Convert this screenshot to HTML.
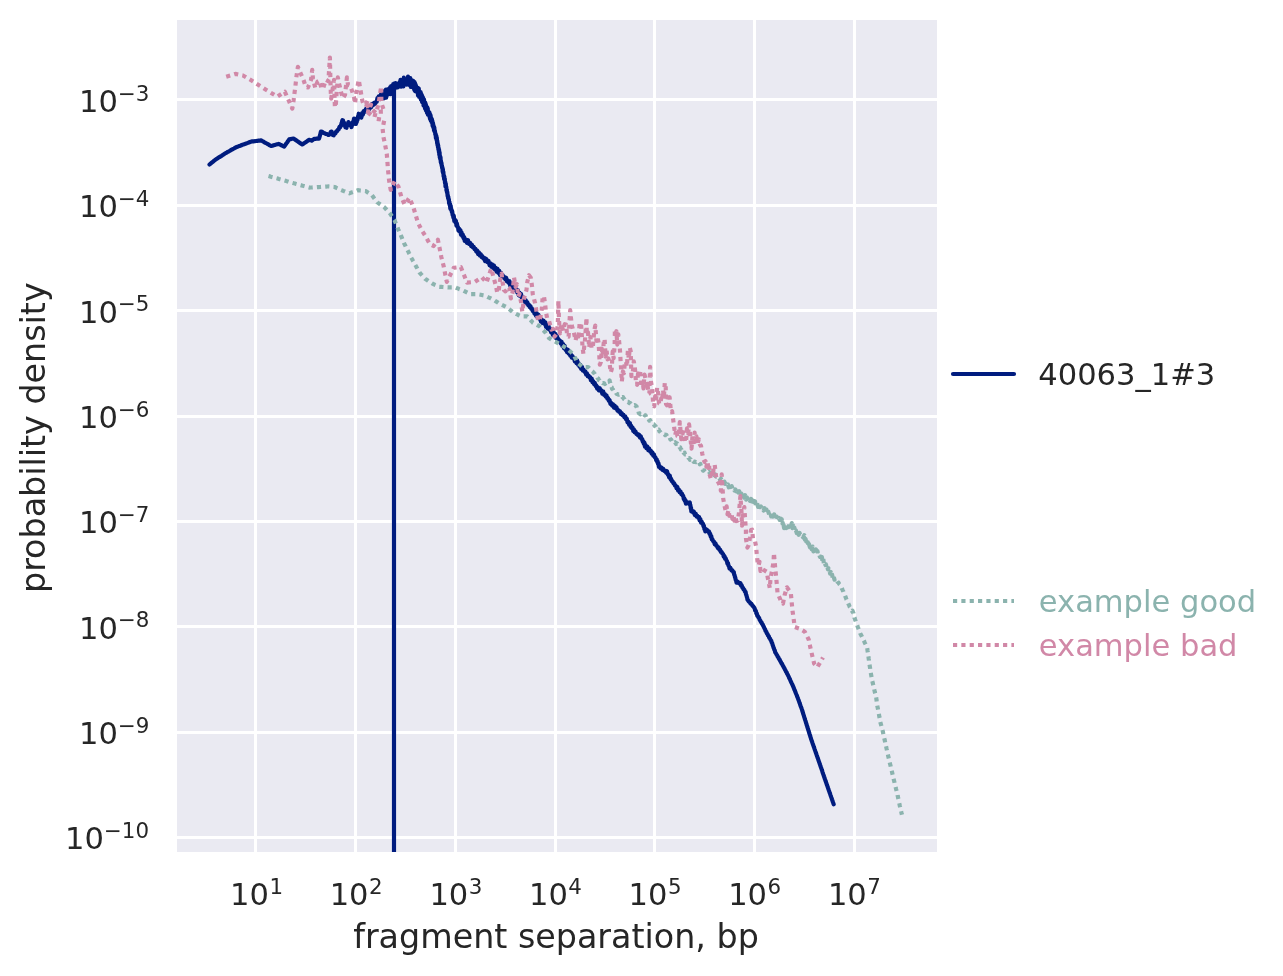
<!DOCTYPE html>
<html lang="en"><head><meta charset="utf-8"><title>fragment separation</title>
<style>html,body{margin:0;padding:0;background:#fff}svg{display:block}</style></head>
<body>
<svg width="1283" height="976" viewBox="0 0 1283 976">
<rect width="1283" height="976" fill="#fff"/>
<rect x="177" y="20" width="760" height="832" fill="#eaeaf2"/>
<g fill="#fff" shape-rendering="crispEdges">
<rect x="254" y="20" width="3" height="832"/>
<rect x="354" y="20" width="3" height="832"/>
<rect x="454" y="20" width="3" height="832"/>
<rect x="554" y="20" width="3" height="832"/>
<rect x="653" y="20" width="3" height="832"/>
<rect x="753" y="20" width="3" height="832"/>
<rect x="853" y="20" width="3" height="832"/>
<rect x="177" y="98" width="760" height="3"/>
<rect x="177" y="204" width="760" height="3"/>
<rect x="177" y="309" width="760" height="3"/>
<rect x="177" y="415" width="760" height="3"/>
<rect x="177" y="520" width="760" height="3"/>
<rect x="177" y="625" width="760" height="3"/>
<rect x="177" y="731" width="760" height="3"/>
<rect x="177" y="836" width="760" height="3"/>
</g>
<clipPath id="ax"><rect x="177" y="20" width="760" height="832"/></clipPath>
<g clip-path="url(#ax)" fill="none" stroke-linejoin="round">
<path d="M209.5 164.5 L210.6 163.6 L211.7 162.7 L212.8 161.8 L213.9 160.9 L215.0 160.0 L216.1 159.3 L217.2 158.6 L218.3 157.8 L219.4 157.1 L220.6 156.4 L221.7 155.7 L222.8 154.9 L223.9 154.2 L225.0 153.5 L226.1 152.9 L227.2 152.2 L228.4 151.6 L229.5 151.0 L230.6 150.3 L231.7 149.7 L232.8 149.1 L234.0 148.5 L235.1 147.8 L236.2 147.2 L237.3 146.8 L238.5 146.3 L239.6 145.9 L240.8 145.5 L241.9 145.0 L243.1 144.6 L244.2 144.2 L245.4 143.8 L246.5 143.3 L247.7 142.9 L248.8 142.5 L250.0 142.0 L251.1 141.6 L252.3 141.4 L253.6 141.3 L254.8 141.2 L256.1 141.0 L257.4 140.8 L258.6 140.7 L259.9 140.6 L261.1 140.4 L262.2 141.0 L263.3 141.6 L264.4 142.3 L265.5 142.9 L266.7 143.5 L267.8 144.1 L268.9 144.8 L270.0 145.4 L271.1 146.0 L272.4 145.7 L273.6 145.3 L274.9 144.9 L276.1 144.6 L277.4 144.2 L278.6 143.9 L279.7 144.4 L280.8 145.0 L282.0 145.5 L283.1 146.1 L284.2 146.6 L284.9 145.6 L285.6 144.5 L286.3 143.5 L287.1 142.5 L287.8 141.5 L288.5 140.4 L289.2 139.4 L290.6 139.1 L292.1 138.8 L293.5 138.5 L294.6 139.2 L295.7 140.0 L296.8 140.8 L297.9 141.5 L298.9 142.2 L300.0 143.0 L301.1 143.8 L302.2 144.5 L303.4 143.7 L304.5 142.9 L305.6 142.2 L306.8 141.4 L308.0 140.6 L309.1 139.8 L310.4 140.2 L311.6 140.7 L312.9 139.8 L314.1 138.9 L315.4 138.8 L316.6 138.7 L317.9 138.6 L319.1 138.6 L319.4 137.3 L319.7 136.3 L320.1 134.9 L320.4 134.0 L320.7 132.4 L321.0 131.5 L322.2 131.8 L323.5 132.9 L324.7 133.2 L325.9 134.0 L327.2 134.1 L328.4 135.0 L329.7 134.4 L330.2 133.9 L330.7 132.0 L331.2 131.5 L331.7 131.7 L332.3 134.5 L332.8 135.0 L333.7 135.3 L334.6 133.4 L335.4 133.4 L336.3 131.3 L337.2 131.1 L337.9 129.6 L338.7 129.3 L339.4 127.0 L340.2 127.3 L340.9 125.3 L341.2 125.5 L341.5 123.0 L341.9 123.0 L342.2 120.8 L342.5 120.1 L343.0 120.5 L343.5 123.0 L344.0 122.6 L344.4 125.0 L344.9 124.8 L345.4 127.4 L345.9 127.4 L346.5 127.7 L347.1 124.4 L347.8 124.7 L348.4 122.0 L349.4 124.8 L350.5 123.7 L351.5 127.1 L352.0 124.2 L352.5 124.9 L353.0 121.9 L353.5 121.8 L354.0 118.6 L354.6 121.5 L355.3 121.4 L355.9 123.9 L356.3 121.1 L356.7 122.3 L357.1 118.7 L357.5 119.9 L357.9 116.6 L358.3 117.3 L358.7 113.7 L359.6 117.1 L360.6 116.4 L361.4 117.5 L362.1 113.2 L362.9 114.6 L363.7 111.0 L364.7 111.9 L365.8 109.2 L366.8 111.1 L367.8 107.1 L368.9 109.8 L369.9 106.5 L370.9 107.5 L372.0 104.2 L373.0 105.2 L374.1 102.8 L375.1 103.8 L376.2 101.7 L376.8 101.6 L377.4 98.1 L378.1 99.3 L378.7 96.4 L379.9 98.4 L381.2 93.7 L382.4 97.0 L382.8 93.8 L383.2 97.9 L383.6 91.9 L383.9 98.4 L384.3 91.2 L384.7 96.3 L385.1 92.0 L385.5 96.1 L385.9 89.6 L386.2 97.7 L386.6 91.6 L387.0 94.2 L387.4 90.6 L387.8 93.8 L388.1 89.1 L388.5 94.4 L388.9 89.3 L389.2 91.8 L389.6 88.2 L390.0 92.5 L390.3 87.1 L390.7 94.1 L391.1 86.1 L391.4 92.0 L391.8 85.8 L392.1 92.0 L392.5 87.3 L392.9 92.3 L393.2 84.2 L393.6 91.7 L394.0 83.6 L394.3 89.4 L394.7 84.5 L395.1 87.9 L395.5 83.2 L395.9 87.3 L396.4 84.8 L396.8 87.4 L397.2 84.0 L397.6 87.4 L398.0 84.0 L398.4 85.8 L398.8 83.2 L399.2 85.7 L399.7 82.0 L400.1 85.0 L400.5 79.8 L400.9 86.7 L401.3 82.0 L401.7 85.0 L402.2 80.8 L402.6 85.0 L403.0 81.2 L403.4 86.3 L403.8 77.7 L404.3 84.5 L404.7 79.1 L405.1 82.7 L405.5 80.1 L405.9 83.3 L406.4 79.1 L406.8 84.6 L407.2 79.0 L407.6 81.8 L408.0 76.7 L408.4 84.1 L408.8 80.1 L409.1 84.7 L409.5 81.1 L409.9 85.2 L410.3 78.2 L410.7 86.9 L411.1 79.8 L411.5 85.3 L411.8 81.5 L412.2 85.5 L412.6 80.6 L413.0 87.3 L413.4 81.1 L413.7 87.3 L414.0 83.9 L414.2 89.8 L414.5 82.0 L414.8 90.7 L415.1 83.4 L415.3 91.3 L415.6 84.5 L415.9 90.0 L416.2 86.1 L416.4 91.2 L416.7 88.6 L417.0 90.8 L417.3 88.5 L417.5 92.3 L417.8 87.9 L418.0 95.4 L418.3 89.5 L418.6 96.0 L418.8 88.5 L419.1 96.8 L419.3 91.2 L419.6 95.1 L419.8 92.5 L420.0 95.8 L420.2 93.4 L420.4 98.0 L420.6 92.0 L420.8 99.5 L421.0 94.2 L421.2 99.7 L421.4 94.0 L421.6 98.7 L421.8 95.3 L422.0 102.0 L422.2 95.8 L422.4 102.3 L422.6 97.6 L422.8 101.5 L423.0 97.5 L423.1 102.7 L423.3 98.3 L423.5 105.4 L423.7 100.4 L423.9 104.6 L424.1 99.7 L424.3 106.3 L424.5 102.7 L424.7 105.4 L424.9 103.6 L425.0 108.5 L425.2 102.7 L425.4 107.1 L425.6 103.5 L425.8 110.3 L426.0 104.8 L426.2 109.4 L426.4 106.0 L426.5 109.6 L426.7 108.3 L426.9 112.7 L427.1 107.4 L427.2 112.3 L427.4 107.5 L427.6 112.9 L427.8 108.5 L427.9 114.7 L428.1 111.1 L428.3 114.0 L428.4 111.7 L428.6 114.8 L428.8 111.8 L429.0 115.7 L429.1 113.1 L429.3 116.2 L429.5 112.7 L429.7 117.6 L429.9 114.7 L430.0 118.9 L430.2 114.5 L430.4 119.4 L430.6 115.3 L430.7 120.4 L430.9 117.1 L431.1 121.2 L431.2 119.2 L431.4 121.9 L431.6 119.6 L431.8 121.6 L431.9 119.0 L432.1 122.9 L432.3 120.6 L432.6 125.8 L433.0 123.0 L433.3 127.3 L433.6 125.6 L434.0 130.3 L434.3 127.5 L434.6 131.8 L434.9 130.6 L435.3 134.6 L435.6 133.7 L435.9 138.1 L436.3 135.7 L436.6 140.1 L436.8 137.7 L437.1 143.2 L437.3 140.8 L437.5 145.1 L437.7 143.2 L438.0 147.3 L438.2 145.3 L438.4 149.6 L438.7 148.0 L438.9 152.1 L439.1 149.8 L439.3 154.9 L439.6 152.4 L439.8 157.7 L440.0 155.9 L440.3 159.4 L440.5 157.1 L440.8 162.3 L441.0 160.9 L441.2 163.5 L441.5 162.8 L441.7 165.8 L441.9 165.5 L442.2 168.2 L442.4 167.2 L442.7 171.8 L442.9 169.2 L443.1 173.1 L443.4 171.9 L443.6 176.4 L443.9 175.3 L444.1 179.2 L444.3 176.3 L444.6 180.4 L444.8 178.7 L445.0 183.1 L445.3 181.9 L445.5 186.6 L445.8 183.7 L446.0 187.5 L446.3 186.8 L446.5 190.6 L446.8 189.5 L447.0 192.6 L447.3 192.0 L447.6 196.0 L447.8 195.1 L448.1 198.2 L448.3 196.8 L448.6 199.7 L448.9 199.5 L449.1 203.3 L449.4 201.7 L449.6 204.8 L449.9 203.3 L450.3 208.6 L450.7 205.8 L451.1 209.8 L451.5 209.6 L451.9 212.2 L452.2 211.1 L452.6 215.1 L453.0 214.8 L453.4 217.8 L453.8 215.9 L454.3 221.0 L454.8 219.4 L455.4 222.3 L455.9 220.7 L456.4 225.5 L456.9 223.6 L457.5 227.1 L458.0 227.1 L458.5 230.6 L459.1 228.8 L459.7 231.6 L460.4 230.1 L461.0 234.8 L461.6 232.5 L462.2 236.0 L462.8 234.6 L463.5 238.2 L464.1 236.8 L464.7 241.0 L465.8 239.5 L466.9 242.8 L468.0 240.1 L469.1 243.8 L470.2 243.0 L471.1 246.0 L471.9 244.8 L472.8 247.3 L473.7 246.9 L474.6 249.1 L475.4 248.8 L476.3 251.5 L477.2 250.5 L478.1 254.1 L478.9 252.3 L479.8 255.4 L480.7 254.2 L481.5 256.9 L482.4 256.2 L483.3 258.4 L484.1 258.0 L485.0 261.0 L486.1 258.8 L487.3 262.0 L488.5 260.9 L489.6 265.2 L490.5 263.3 L491.3 266.7 L492.2 264.5 L493.1 267.9 L493.9 265.5 L494.8 269.4 L495.7 267.8 L496.5 271.7 L497.4 268.7 L498.3 272.8 L499.1 270.7 L500.0 275.2 L500.9 272.8 L501.7 276.4 L502.6 275.0 L503.5 277.5 L504.3 277.2 L505.2 279.3 L506.1 277.8 L506.9 281.3 L507.8 280.5 L508.6 282.7 L509.4 281.1 L510.3 285.9 L511.1 283.2 L512.0 286.7 L512.8 285.8 L513.7 288.6 L514.5 287.3 L515.4 290.2 L516.2 289.1 L517.1 292.2 L517.9 290.1 L518.7 295.3 L519.5 292.7 L520.3 295.9 L521.0 293.9 L521.8 297.9 L522.6 296.8 L523.4 299.3 L524.2 298.7 L525.0 302.0 L525.8 300.4 L526.5 303.4 L527.3 302.3 L528.1 305.0 L528.9 304.6 L529.7 307.0 L530.5 306.2 L531.2 308.8 L532.0 308.7 L532.8 311.1 L533.6 310.2 L534.4 313.5 L535.1 311.6 L535.9 315.6 L536.7 313.2 L537.5 317.4 L538.4 314.7 L539.2 318.7 L540.1 317.5 L540.9 321.6 L541.8 319.7 L542.6 323.0 L543.5 320.6 L544.3 323.7 L545.2 322.2 L546.0 327.0 L546.9 324.4 L547.7 328.7 L548.6 326.1 L549.4 329.6 L550.3 328.6 L551.1 332.3 L552.0 330.0 L552.8 334.8 L553.7 332.0 L554.5 336.4 L555.4 333.9 L556.2 338.5 L557.0 336.2 L557.7 339.7 L558.5 339.3 L559.3 341.4 L560.0 340.7 L560.8 343.3 L561.6 341.8 L562.4 346.1 L563.2 344.1 L563.9 348.1 L564.7 346.0 L565.5 349.8 L566.3 349.0 L567.0 352.1 L567.8 349.7 L568.6 353.5 L569.4 351.9 L570.2 355.6 L570.9 354.5 L571.7 357.6 L572.5 356.1 L573.3 358.4 L574.1 358.0 L574.8 361.3 L575.6 359.9 L576.4 363.1 L577.2 360.6 L578.0 364.6 L578.7 363.4 L579.5 366.5 L580.3 364.9 L581.1 368.8 L582.0 366.9 L582.8 370.5 L583.6 369.7 L584.4 371.7 L585.3 371.3 L586.1 374.5 L586.9 373.2 L587.7 376.1 L588.6 375.6 L589.4 377.3 L590.2 377.2 L590.9 380.2 L591.7 378.6 L592.5 382.2 L593.2 381.2 L594.0 384.0 L594.8 383.0 L595.6 385.9 L596.3 385.5 L597.1 388.5 L598.0 387.3 L598.8 390.3 L599.7 388.1 L600.6 390.8 L601.4 390.4 L602.3 393.6 L603.2 391.5 L604.0 394.8 L604.9 394.1 L605.7 396.5 L606.5 395.4 L607.3 398.6 L608.0 398.0 L608.8 400.7 L609.6 400.3 L610.4 403.8 L611.2 402.9 L612.1 405.6 L613.0 404.2 L613.9 407.5 L614.7 405.7 L615.6 408.4 L616.5 407.3 L617.4 410.5 L618.3 410.1 L619.1 411.7 L620.0 411.3 L620.9 414.0 L621.8 413.3 L622.6 415.3 L623.5 415.0 L624.4 417.3 L625.2 416.4 L626.0 419.1 L626.8 418.7 L627.5 422.4 L628.3 421.7 L629.1 424.7 L629.9 423.2 L630.6 426.8 L631.2 425.8 L631.9 428.2 L632.6 427.7 L633.3 431.0 L633.9 429.5 L634.6 432.2 L635.5 431.5 L636.4 433.9 L637.2 433.8 L638.1 435.4 L639.0 434.6 L639.9 437.4 L640.7 436.2 L641.6 439.1 L642.2 439.0 L642.7 441.7 L643.3 441.3 L643.8 443.7 L644.4 442.6 L644.9 446.6 L645.5 445.0 L646.4 448.1 L647.3 446.5 L648.3 450.1 L649.2 448.5 L650.1 451.4 L650.9 450.9 L651.6 453.5 L652.4 452.5 L653.2 455.6 L653.9 454.4 L654.7 457.2 L655.4 457.3 L656.2 460.1 L656.7 459.4 L657.1 461.8 L657.6 461.3 L658.0 463.8 L658.5 463.1 L658.9 466.8 L659.4 465.9 L660.4 468.3 L661.3 467.4 L662.3 469.8 L663.2 468.8 L664.2 470.9 L665.2 470.7 L666.1 472.5 L667.1 471.3 L667.8 474.7 L668.4 474.4 L669.1 477.4 L669.8 475.7 L670.5 479.1 L671.1 478.9 L671.8 481.0 L672.6 481.2 L673.4 483.4 L674.2 483.4 L674.9 485.5 L675.7 485.5 L676.5 488.1 L677.3 487.0 L678.1 490.5 L678.8 489.5 L679.6 492.1 L680.4 491.4 L681.2 494.0 L681.9 493.6 L682.7 495.7 L683.2 495.9 L683.8 499.1 L684.3 498.4 L684.8 500.9 L685.4 500.2 L685.9 503.7 L687.2 502.1 L688.5 503.5 L689.8 502.5 L690.1 505.2 L690.4 505.1 L690.7 508.7 L691.0 507.5 L691.3 511.4 L692.2 510.7 L693.0 512.2 L693.9 511.7 L694.8 514.9 L695.7 513.7 L696.5 516.4 L697.4 516.0 L698.3 517.9 L699.0 516.9 L699.6 520.4 L700.3 519.0 L701.0 522.6 L701.7 521.7 L702.3 523.6 L703.0 523.8 L703.5 526.3 L703.9 525.7 L704.4 529.2 L704.8 528.1 L705.3 531.4 L706.9 529.7 L708.5 531.9 L709.1 531.6 L709.6 534.0 L710.2 533.8 L710.7 536.6 L711.3 536.2 L711.8 539.5 L712.4 539.3 L713.2 541.3 L714.0 541.6 L714.7 544.1 L715.5 543.5 L716.3 545.7 L717.0 546.0 L717.8 548.0 L718.6 547.5 L719.4 549.9 L720.2 549.8 L720.9 552.0 L721.7 552.0 L722.4 553.8 L723.0 553.8 L723.7 556.6 L724.4 555.9 L725.1 558.7 L725.7 558.3 L726.4 560.4 L726.9 560.9 L727.4 563.6 L728.0 563.1 L728.5 565.7 L729.0 566.3 L729.5 568.4 L730.5 568.0 L731.5 570.3 L732.4 570.3 L733.4 572.4 L733.8 572.1 L734.2 574.6 L734.6 575.3 L735.0 577.2 L735.3 577.6 L735.7 580.0 L736.1 580.3 L736.5 582.7 L737.8 581.7 L739.1 583.4 L740.4 583.1 L741.0 585.4 L741.7 585.3 L742.4 587.6 L743.0 587.7 L743.6 589.5 L744.3 589.7 L745.0 591.9 L745.6 591.9 L746.0 594.5 L746.4 595.0 L746.8 596.9 L747.1 597.5 L747.5 599.8 L747.9 599.8 L748.8 601.7 L749.7 602.1 L750.6 603.8 L751.5 603.8 L752.4 605.7 L753.3 606.3 L754.2 607.7 L754.7 608.5 L755.2 610.7 L755.8 610.8 L756.3 613.2 L756.8 613.4 L757.3 615.9 L757.9 616.1 L758.5 617.6 L759.1 617.9 L759.7 620.0 L760.3 620.4 L760.9 622.0 L761.5 622.3 L762.1 623.9 L762.7 624.4 L763.3 626.0 L763.9 626.9 L764.5 628.4 L765.0 629.1 L765.6 631.0 L766.2 631.5 L766.8 633.3 L767.4 633.8 L768.0 635.4 L768.7 636.0 L769.3 637.9 L770.0 638.5 L770.6 640.0 L771.3 640.9 L771.7 642.5 L772.2 643.1 L772.6 644.9 L773.0 645.7 L773.5 647.5 L773.9 648.3 L774.3 649.8 L774.8 650.5 L775.2 652.3 L775.8 653.0 L776.4 654.3 L777.1 655.2 L777.7 656.7 L778.3 657.3 L778.9 658.8 L779.5 659.3 L780.2 660.9 L780.8 661.7 L781.4 663.2 L782.0 663.8 L782.5 665.1 L783.1 665.9 L783.7 667.3 L784.3 668.1 L784.8 669.3 L785.4 670.2 L786.0 671.6 L786.6 672.3 L787.1 673.7 L787.7 674.6 L788.2 675.8 L788.8 676.8 L789.3 678.3 L789.9 679.1 L790.4 680.5 L790.9 681.6 L791.5 682.9 L792.0 683.9 L792.6 685.2 L793.1 686.3 L793.6 687.6 L794.0 688.6 L794.5 689.9 L795.0 690.9 L795.5 692.2 L795.9 693.3 L796.4 694.5 L796.9 695.6 L797.3 696.9 L797.8 698.0 L798.2 699.2 L798.7 700.4 L799.1 701.6 L799.5 702.8 L800.0 704.1 L800.4 705.3 L800.8 706.5 L801.3 707.7 L801.7 708.9 L802.1 710.0 L802.4 711.2 L802.8 712.3 L803.1 713.5 L803.5 714.6 L803.9 715.8 L804.2 716.9 L804.6 718.1 L804.9 719.2 L805.3 720.4 L805.7 721.5 L806.0 722.7 L806.4 723.8 L806.7 725.0 L807.1 726.1 L807.4 727.3 L807.8 728.4 L808.2 729.6 L808.5 730.7 L808.9 731.9 L809.2 733.0 L809.6 734.2 L810.0 735.3 L810.3 736.5 L810.7 737.6 L811.0 738.8 L811.4 739.9 L811.8 741.0 L812.2 742.2 L812.6 743.4 L813.0 744.5 L813.4 745.6 L813.8 746.8 L814.2 747.9 L814.6 749.1 L815.0 750.2 L815.4 751.4 L815.8 752.5 L816.2 753.7 L816.6 754.9 L817.0 756.0 L817.4 757.1 L817.8 758.3 L818.2 759.4 L818.6 760.6 L819.0 761.8 L819.4 762.9 L819.8 764.0 L820.2 765.2 L820.6 766.3 L821.0 767.5 L821.4 768.6 L821.8 769.8 L822.2 770.9 L822.5 772.1 L822.9 773.2 L823.3 774.4 L823.7 775.5 L824.1 776.7 L824.5 777.8 L824.9 779.0 L825.3 780.1 L825.7 781.3 L826.1 782.4 L826.5 783.6 L826.9 784.8 L827.3 785.9 L827.7 787.0 L828.1 788.2 L828.5 789.3 L828.9 790.5 L829.3 791.6 L829.7 792.8 L830.1 793.9 L830.5 795.1 L830.9 796.2 L831.3 797.4 L831.7 798.5 L832.1 799.7 L832.5 800.8 L832.9 802.0 L833.3 803.1 L833.7 804.3" stroke="#001c7f" stroke-width="4.17" stroke-linecap="round"/>
<line x1="394" y1="88" x2="394" y2="860" stroke="#001c7f" stroke-width="4.17"/>
<path d="M268.5 176.0 L269.6 176.3 L270.8 176.7 L271.9 177.0 L273.1 177.3 L274.2 177.7 L275.4 178.0 L276.6 178.3 L277.7 178.6 L278.9 179.0 L280.0 179.3 L281.1 179.6 L282.1 179.9 L283.2 180.2 L284.3 180.5 L285.4 180.8 L286.4 181.1 L287.5 181.4 L288.6 181.8 L289.6 182.1 L290.7 182.4 L291.8 182.7 L292.9 183.0 L293.9 183.3 L295.0 183.6 L296.1 183.9 L297.2 184.2 L298.3 184.5 L299.4 184.8 L300.5 185.1 L301.6 185.4 L302.8 185.8 L303.9 186.1 L305.0 186.4 L306.1 186.7 L307.2 187.0 L308.3 187.3 L309.4 187.6 L310.6 187.5 L311.8 187.5 L312.9 187.4 L314.1 187.3 L315.3 187.3 L316.5 187.2 L317.6 187.1 L318.8 187.1 L320.0 187.0 L321.2 186.9 L322.4 186.8 L323.6 186.7 L324.8 186.7 L326.0 186.6 L327.2 186.5 L328.4 186.4 L329.6 186.5 L330.9 186.6 L332.1 186.8 L333.4 186.9 L334.6 187.0 L335.8 187.5 L336.9 188.1 L338.1 188.6 L339.3 189.1 L340.4 189.7 L341.6 190.2 L342.7 190.6 L343.8 191.1 L344.9 191.5 L346.1 192.0 L347.2 192.4 L348.3 192.9 L349.4 193.3 L350.5 192.9 L351.5 192.5 L352.6 192.1 L353.6 191.8 L354.7 191.4 L355.8 191.0 L356.8 190.6 L357.9 190.2 L359.0 190.3 L360.1 190.5 L361.2 190.6 L362.4 190.7 L363.5 190.8 L364.6 191.0 L365.7 191.1 L366.8 191.8 L367.8 192.5 L368.9 193.2 L369.9 193.9 L370.9 194.6 L372.0 195.3 L372.7 196.2 L373.4 197.1 L374.0 198.0 L374.7 198.9 L375.4 199.7 L376.0 200.6 L376.7 201.5 L377.4 202.4 L378.4 203.1 L379.4 203.8 L380.4 204.5 L381.4 205.2 L382.4 205.9 L383.4 206.6 L384.4 207.3 L385.2 208.2 L386.0 209.0 L386.8 209.9 L387.5 210.7 L388.3 211.6 L389.1 212.4 L389.9 213.3 L390.6 214.3 L391.2 215.3 L391.9 216.3 L392.6 217.3 L393.3 218.3 L393.9 219.3 L394.6 220.3 L395.0 221.4 L395.5 222.5 L395.9 223.6 L396.4 224.8 L396.8 225.9 L397.3 227.0 L397.7 228.1 L398.2 229.3 L398.7 230.4 L399.2 231.6 L399.8 232.8 L400.3 233.9 L400.8 235.1 L401.2 236.2 L401.7 237.3 L402.1 238.4 L402.6 239.6 L403.0 240.7 L403.5 241.8 L403.9 242.9 L404.5 244.0 L405.0 245.1 L405.6 246.2 L406.1 247.4 L406.7 248.5 L407.2 249.6 L407.8 250.7 L408.4 251.8 L408.9 252.9 L409.5 254.0 L410.0 255.2 L410.6 256.3 L411.1 257.4 L411.7 258.5 L412.3 259.5 L412.8 260.5 L413.4 261.5 L413.9 262.5 L414.5 263.5 L415.0 264.5 L415.6 265.5 L416.2 266.5 L416.7 267.5 L417.3 268.5 L417.8 269.5 L418.4 270.5 L418.9 271.5 L419.5 272.5 L420.3 273.4 L421.1 274.3 L421.9 275.2 L422.6 276.0 L423.4 276.9 L424.2 277.8 L425.0 278.7 L426.0 279.4 L427.0 280.0 L428.0 280.7 L429.0 281.4 L430.0 282.1 L431.0 282.7 L432.0 283.4 L433.0 283.9 L434.0 284.4 L435.0 284.9 L436.0 285.3 L437.0 285.8 L438.0 286.3 L439.0 286.8 L440.2 286.9 L441.5 286.9 L442.7 287.0 L443.9 287.1 L445.1 287.2 L446.4 287.2 L447.6 287.3 L448.7 287.3 L449.9 287.4 L451.0 287.4 L452.2 287.4 L453.3 287.4 L454.5 287.5 L455.6 287.5 L456.7 288.0 L457.8 288.4 L458.9 288.9 L460.1 289.3 L461.2 289.8 L462.3 290.2 L463.4 290.7 L464.4 291.2 L465.4 291.7 L466.4 292.2 L467.4 292.7 L468.4 293.2 L469.4 293.7 L470.4 294.2 L471.5 294.2 L472.6 294.2 L473.7 294.2 L474.9 294.2 L476.0 294.2 L477.1 294.2 L478.2 294.2 L479.4 294.5 L480.5 294.7 L481.7 295.0 L482.9 295.3 L484.0 295.5 L485.2 295.8 L486.3 296.3 L487.4 296.9 L488.5 297.4 L489.7 297.9 L490.8 298.4 L491.9 299.0 L493.0 299.5 L494.0 300.1 L495.0 300.8 L496.0 301.4 L497.0 302.0 L498.0 302.6 L499.0 303.3 L500.0 303.9 L501.0 304.4 L502.0 304.9 L503.0 305.4 L504.0 305.8 L505.0 306.3 L506.0 306.8 L507.0 307.3 L507.9 308.0 L508.8 308.8 L509.7 309.5 L510.6 310.3 L511.5 311.0 L512.4 311.8 L513.3 312.5 L514.4 313.1 L515.5 313.6 L516.6 314.2 L517.8 314.7 L518.9 315.3 L520.0 315.8 L521.1 316.4 L522.3 316.4 L523.6 316.4 L524.8 316.4 L526.1 316.4 L527.3 316.4 L528.1 317.3 L528.9 318.2 L529.7 319.1 L530.4 319.9 L531.2 320.8 L532.0 321.7 L532.8 322.6 L533.8 323.2 L534.8 323.7 L535.8 324.3 L536.8 324.8 L537.8 325.4 L538.8 325.9 L539.8 326.5 L540.6 327.3 L541.3 328.2 L542.1 329.0 L542.9 329.8 L543.7 330.6 L544.4 331.5 L545.2 332.3 L545.9 333.3 L546.5 334.3 L547.2 335.2 L547.8 336.2 L548.5 337.2 L549.1 338.2 L550.1 338.8 L551.1 339.3 L552.1 339.9 L553.1 340.4 L554.1 341.0 L555.1 341.5 L556.1 342.1 L557.2 342.7 L558.3 343.3 L559.4 344.0 L560.5 344.6 L561.6 345.2 L562.6 345.9 L563.7 346.5 L564.7 347.1 L565.7 347.8 L566.8 348.5 L567.8 349.1 L568.6 349.9 L569.4 350.7 L570.2 351.5 L571.0 352.2 L571.7 353.0 L572.5 353.8 L573.3 354.6 L574.1 355.4 L574.6 356.6 L575.1 357.7 L575.7 358.9 L576.2 360.1 L576.7 361.2 L577.2 362.4 L578.1 363.2 L579.0 363.9 L579.9 364.7 L580.8 365.5 L581.7 366.2 L582.6 367.0 L583.7 367.0 L584.8 367.0 L585.9 367.0 L587.0 367.0 L588.1 367.0 L588.9 367.8 L589.6 368.6 L590.4 369.4 L591.2 370.1 L592.0 371.0 L592.8 371.6 L593.5 372.7 L594.3 373.1 L595.0 374.5 L595.6 375.0 L596.3 376.4 L597.0 376.8 L597.6 378.2 L598.3 378.4 L599.0 380.2 L599.6 380.5 L600.3 381.8 L601.4 381.9 L602.6 383.1 L603.8 383.0 L604.9 384.1 L605.8 383.0 L606.8 383.1 L607.7 381.5 L608.7 381.6 L609.6 380.4 L609.9 382.4 L610.3 382.9 L610.6 384.7 L611.0 385.1 L611.3 386.8 L611.7 387.1 L612.0 389.0 L612.8 389.2 L613.5 390.6 L614.3 390.7 L615.1 392.3 L615.9 392.4 L616.6 394.0 L617.4 394.1 L618.5 394.7 L619.7 394.3 L620.8 395.2 L621.5 395.5 L622.3 397.2 L623.0 397.0 L623.7 398.8 L624.5 399.2 L625.2 400.7 L626.2 400.8 L627.3 401.8 L628.3 401.9 L629.3 403.1 L630.4 403.2 L631.4 404.6 L632.6 404.4 L633.8 405.4 L634.9 405.1 L636.1 406.2 L636.5 406.3 L637.0 408.3 L637.4 408.9 L637.9 410.6 L638.3 410.9 L638.8 413.0 L639.2 413.3 L640.3 414.4 L641.4 413.5 L642.5 415.0 L643.6 414.2 L644.7 415.3 L645.5 415.3 L646.2 417.2 L647.0 416.9 L647.8 419.1 L648.6 419.1 L649.3 420.7 L650.1 420.3 L651.0 422.1 L651.9 422.4 L652.9 424.2 L653.8 424.3 L654.7 426.1 L655.6 426.0 L656.4 427.9 L657.2 428.0 L658.0 429.7 L658.7 429.5 L659.5 431.5 L660.3 431.9 L661.3 433.2 L662.3 433.0 L663.3 434.0 L664.3 434.2 L665.3 435.2 L666.3 434.8 L667.3 436.7 L668.1 436.2 L668.9 437.9 L669.7 437.8 L670.4 439.5 L671.2 439.6 L672.0 441.4 L672.8 441.2 L673.9 442.9 L675.0 442.3 L676.0 444.0 L677.1 443.4 L678.2 444.9 L678.9 445.0 L679.5 447.3 L680.2 447.4 L680.8 449.5 L681.5 449.5 L682.1 451.7 L682.9 451.2 L683.7 452.9 L684.5 452.6 L685.2 454.5 L686.0 454.6 L686.8 456.2 L687.6 456.2 L688.4 458.0 L689.2 458.0 L689.9 459.8 L690.7 459.4 L691.5 461.6 L692.6 460.7 L693.7 461.9 L694.8 461.6 L696.0 462.2 L697.1 461.9 L698.2 463.0 L699.3 462.1 L699.8 464.3 L700.4 464.0 L700.9 466.2 L701.4 466.7 L701.9 468.8 L702.5 469.1 L703.0 470.6 L704.2 470.3 L705.4 471.5 L706.5 471.1 L707.7 472.3 L708.9 471.7 L710.0 473.4 L711.2 472.7 L712.4 474.2 L713.4 473.6 L714.3 475.2 L715.3 474.5 L716.2 476.7 L717.2 476.6 L718.2 477.9 L719.1 477.5 L720.1 480.0 L721.0 478.7 L721.8 481.0 L722.7 480.6 L723.6 482.0 L724.4 481.6 L725.3 483.9 L726.2 483.2 L727.0 485.5 L727.9 484.4 L728.8 487.3 L729.8 485.2 L730.7 487.7 L731.7 486.1 L732.6 488.7 L733.5 487.7 L734.5 490.6 L735.4 489.4 L736.4 491.3 L737.3 489.6 L738.3 492.6 L739.2 491.3 L740.2 495.7 L741.2 493.4 L742.2 495.7 L743.1 493.9 L744.1 497.7 L745.1 495.2 L746.1 499.6 L747.0 497.5 L748.0 500.0 L749.0 498.6 L750.0 500.9 L751.0 498.8 L751.9 503.7 L752.9 500.5 L753.9 503.4 L755.0 501.3 L756.0 505.9 L757.0 503.1 L758.1 506.9 L759.1 504.2 L760.0 507.2 L760.9 506.4 L761.8 508.7 L762.7 508.0 L763.6 510.5 L764.5 508.2 L765.4 512.7 L766.4 509.4 L767.3 513.9 L768.3 511.7 L769.2 514.8 L770.2 512.5 L771.2 516.4 L772.1 513.5 L773.1 516.6 L774.2 514.4 L775.3 519.0 L776.4 516.4 L777.6 520.0 L778.7 517.9 L779.8 519.9 L780.9 518.6 L781.4 522.5 L781.8 519.4 L782.3 524.8 L782.7 522.8 L783.2 527.2 L783.6 525.1 L784.1 528.2 L785.3 524.6 L786.4 528.0 L787.6 523.9 L788.8 527.0 L789.9 522.4 L791.1 525.6 L791.8 523.1 L792.4 528.1 L793.0 525.2 L793.7 529.7 L794.4 527.5 L795.0 532.0 L795.9 530.3 L796.8 533.2 L797.8 531.5 L798.7 534.8 L799.6 532.9 L800.8 536.4 L802.0 535.7 L803.1 537.5 L804.3 535.1 L804.9 539.6 L805.5 538.8 L806.1 541.2 L806.6 541.1 L807.2 544.6 L807.8 542.2 L808.4 546.7 L809.0 544.1 L809.9 547.3 L810.8 545.7 L811.7 549.2 L812.5 546.6 L813.4 551.4 L814.3 547.8 L815.2 551.3 L816.0 549.5 L816.8 554.7 L817.5 551.1 L818.3 555.0 L819.1 554.3 L819.9 556.8 L820.6 556.6 L821.2 560.2 L821.9 557.1 L822.6 561.8 L823.3 559.0 L823.9 563.8 L824.6 562.1 L825.3 564.8 L826.0 564.5 L826.7 568.1 L827.3 566.4 L827.9 569.4 L828.4 568.1 L829.0 571.0 L829.6 570.6 L830.1 573.7 L830.7 571.9 L831.3 576.0 L832.1 574.6 L832.9 578.6 L833.7 576.3 L834.5 579.7 L835.2 578.3 L836.0 580.3 L836.8 580.5 L837.6 582.0 L838.4 582.5 L839.2 583.9 L839.9 584.5 L840.7 585.9 L841.2 586.8 L841.7 588.3 L842.2 589.1 L842.8 590.6 L843.3 591.4 L843.8 592.8 L844.2 593.7 L844.7 595.2 L845.1 595.7 L845.6 597.2 L846.0 598.1 L846.5 599.6 L846.9 600.2 L847.4 601.8 L847.9 602.7 L848.5 604.1 L849.0 604.9 L849.5 606.5 L850.0 607.2 L850.6 608.6 L851.2 609.1 L851.9 611.0 L852.5 610.6 L853.1 612.5 L853.4 612.7 L853.7 615.0 L854.1 615.3 L854.4 617.7 L854.7 618.1 L855.1 619.8 L855.5 620.5 L855.9 621.6 L856.2 622.6 L856.6 623.7 L857.0 624.7 L857.4 625.8 L857.8 626.9 L858.2 627.9 L858.6 629.0 L859.0 630.1 L859.4 631.1 L859.8 632.2 L860.2 633.3 L860.8 634.4 L861.3 635.5 L861.9 636.6 L862.4 637.8 L863.0 638.9 L863.5 640.0 L864.1 641.1 L864.6 642.3 L865.1 643.4 L865.7 644.6 L866.2 645.8 L866.7 646.9 L867.2 648.1 L867.4 649.3 L867.5 650.5 L867.7 651.7 L867.9 653.0 L868.1 654.2 L868.2 655.4 L868.4 656.6 L868.6 657.7 L868.7 658.8 L868.9 659.9 L869.0 661.1 L869.2 662.2 L869.3 663.3 L869.5 664.4 L869.7 665.6 L869.9 666.9 L870.1 668.1 L870.2 669.3 L870.4 670.5 L870.6 671.8 L870.8 673.0 L871.0 674.1 L871.2 675.2 L871.4 676.3 L871.6 677.5 L871.8 678.6 L872.0 679.7 L872.2 680.8 L872.5 681.9 L872.7 682.9 L873.0 684.0 L873.2 685.1 L873.5 686.2 L873.7 687.2 L874.0 688.3 L874.2 689.4 L874.5 690.5 L874.7 691.6 L875.0 692.7 L875.3 693.7 L875.6 694.8 L875.8 695.9 L876.1 697.0 L876.3 698.2 L876.4 699.4 L876.6 700.6 L876.7 701.7 L876.9 702.9 L877.0 704.1 L877.2 705.3 L877.4 706.5 L877.7 707.6 L877.9 708.8 L878.1 709.9 L878.3 711.1 L878.6 712.2 L878.8 713.4 L879.0 714.6 L879.2 715.9 L879.4 717.1 L879.7 718.3 L879.9 719.5 L880.1 720.8 L880.3 722.0 L880.6 723.1 L880.9 724.2 L881.2 725.3 L881.5 726.5 L881.8 727.6 L882.1 728.7 L882.4 729.8 L882.7 731.0 L882.9 732.1 L883.2 733.3 L883.4 734.5 L883.7 735.7 L883.9 736.8 L884.2 738.0 L884.5 739.2 L884.7 740.3 L885.0 741.5 L885.2 742.6 L885.5 743.8 L885.7 744.9 L886.0 746.1 L886.3 747.3 L886.5 748.4 L886.8 749.6 L887.0 750.7 L887.3 751.9 L887.5 753.0 L887.8 754.2 L888.1 755.4 L888.3 756.6 L888.6 757.8 L888.9 758.9 L889.2 760.1 L889.4 761.3 L889.7 762.5 L890.0 763.7 L890.3 764.8 L890.6 766.0 L890.8 767.2 L891.1 768.4 L891.4 769.5 L891.7 770.7 L892.0 771.9 L892.2 773.0 L892.5 774.2 L892.8 775.4 L893.1 776.6 L893.3 777.7 L893.6 778.9 L893.9 780.1 L894.2 781.2 L894.5 782.4 L894.7 783.5 L895.0 784.7 L895.3 785.8 L895.6 787.0 L895.9 788.1 L896.1 789.2 L896.4 790.3 L896.7 791.5 L897.0 792.6 L897.2 793.7 L897.5 794.8 L897.7 796.0 L898.0 797.1 L898.2 798.3 L898.5 799.5 L898.7 800.7 L899.0 801.8 L899.2 803.0 L899.5 804.2 L899.7 805.4 L900.0 806.6 L900.3 807.7 L900.6 808.9 L900.8 810.1 L901.1 811.3 L901.4 812.5 L901.6 813.6 L901.9 814.8" stroke="#8bb3ae" stroke-width="4.17" stroke-dasharray="4.17 4.17"/>
<path d="M226.2 76.8 L235.5 73.9 L243.0 75.5 L250.0 79.5 L257.0 84.0 L264.0 88.5 L270.5 92.5 L277.3 96.7 L284.8 91.7 L288.5 100.0 L292.3 108.6 L293.5 101.0 L295.4 86.1 L296.5 76.0 L297.9 66.8 L300.5 73.0 L303.5 79.9 L305.8 87.1 L308.0 87.5 L311.0 79.9 L312.2 69.9 L313.0 79.0 L315.3 88.0 L317.5 81.6 L319.7 80.5 L321.5 88.9 L323.4 87.4 L325.9 79.7 L328.4 81.2 L329.9 57.5 L330.3 75.0 L330.8 92.4 L331.2 98.6 L334.0 79.9 L334.9 107.3 L335.9 103.6 L336.5 94.9 L337.8 77.4 L339.0 83.6 L340.0 87.4 L340.9 91.7 L342.9 98.3 L345.0 94.9 L346.9 77.4 L348.0 84.9 L350.1 85.6 L352.1 91.1 L354.0 97.0 L355.0 103.6 L356.5 92.0 L358.7 79.9 L360.5 90.0 L362.0 99.0 L362.5 101.4 L364.0 105.0 L365.9 104.2 L367.9 99.9 L365.6 109.2 L367.4 105.8 L369.2 109.4 L371.0 104.6 L369.1 106.5 L367.2 116.3 L370.3 112.4 L371.8 109.2 L376.0 113.0 L378.5 104.0 L381.2 86.6 L381.4 103.0 L384.3 111.6 L375.7 111.8 L374.2 118.5 L384.3 120.0 L382.6 128.5 L383.5 137.3 L384.9 143.5 L386.8 154.0 L388.0 169.6 L389.1 180.5 L390.7 189.9 L394.6 181.3 L398.5 186.8 L401.6 197.7 L404.7 204.7 L409.4 197.7 L413.3 207.0 L415.6 214.8 L417.9 222.6 L421.8 230.4 L425.7 236.6 L429.6 243.7 L433.5 246.0 L437.9 239.8 L439.8 249.1 L441.3 256.9 L443.7 266.3 L445.2 274.1 L446.8 281.9 L449.9 275.6 L453.8 267.8 L460.8 267.0 L463.9 274.8 L467.0 282.6 L474.8 281.9 L481.9 277.2 L486.5 282.6 L491.2 268.6 L493.5 277.2 L495.9 285.8 L497.2 292.7 L498.5 292.2 L500.1 280.1 L501.6 273.5 L502.4 281.3 L503.9 289.9 L505.5 291.4 L507.8 286.8 L509.4 288.2 L510.9 298.5 L512.5 292.6 L514.0 277.4 L515.6 286.8 L516.9 284.2 L518.2 296.8 L519.5 293.8 L521.1 302.4 L522.3 311.7 L524.2 297.7 L526.5 289.9 L527.3 282.1 L529.0 275.2 L530.7 277.4 L532.0 286.0 L532.8 294.6 L535.1 303.1 L536.7 312.5 L538.2 321.1 L539.8 319.5 L541.3 313.3 L542.1 305.5 L542.6 297.7 L543.9 295.9 L545.2 304.7 L546.0 312.5 L547.5 319.8 L549.1 321.1 L551.5 329.6 L553.0 328.9 L554.6 336.6 L556.2 334.5 L557.7 325.7 L558.0 317.2 L558.2 308.6 L558.4 300.8 L559.0 320.0 L560.0 333.5 L561.6 323.9 L563.1 330.8 L564.7 324.2 L566.0 324.5 L567.3 336.2 L568.6 336.6 L570.2 310.1 L570.9 317.2 L571.7 325.0 L574.1 333.5 L575.6 340.5 L577.0 333.2 L578.4 339.7 L579.7 322.6 L581.1 324.2 L582.6 347.6 L583.4 353.8 L585.0 340.1 L586.5 317.9 L586.8 334.3 L588.0 332.3 L589.2 347.6 L590.4 337.0 L591.6 348.6 L592.8 347.6 L594.3 330.4 L595.3 325.5 L596.4 340.6 L597.4 336.6 L598.6 342.7 L599.8 364.7 L600.8 362.2 L601.8 348.7 L602.7 355.3 L603.7 342.9 L604.6 338.9 L605.6 356.7 L606.5 349.6 L607.5 359.4 L608.4 358.5 L609.5 362.4 L610.7 372.5 L611.7 369.3 L612.7 351.4 L613.6 358.3 L614.6 346.0 L614.9 329.6 L615.4 337.4 L616.4 331.2 L617.3 344.6 L618.3 334.3 L619.3 342.9 L620.0 350.7 L620.5 359.3 L621.8 381.6 L622.9 371.4 L623.9 373.2 L625.0 361.3 L626.0 362.1 L626.9 366.7 L627.9 350.0 L628.8 358.6 L629.8 347.6 L630.7 351.2 L631.4 376.1 L632.6 374.6 L633.8 361.3 L635.0 369.0 L636.1 383.9 L637.1 384.9 L638.0 373.7 L639.0 376.9 L640.0 369.9 L641.6 387.0 L642.6 381.0 L643.5 388.5 L644.5 374.6 L645.5 378.5 L646.5 385.7 L647.5 383.4 L648.4 393.8 L649.4 393.3 L650.1 366.8 L651.0 382.0 L652.1 387.7 L653.3 405.7 L654.2 406.3 L655.2 396.0 L656.1 400.8 L657.1 387.6 L658.0 391.7 L659.1 403.4 L660.3 404.2 L661.2 398.3 L662.1 400.9 L663.0 390.2 L663.9 397.2 L664.8 382.6 L665.7 385.5 L666.0 404.0 L666.9 405.2 L667.8 397.3 L668.7 405.2 L669.6 397.2 L670.4 405.7 L671.0 412.0 L672.1 411.2 L673.2 419.8 L674.3 428.3 L675.3 434.9 L676.4 429.4 L677.4 436.1 L678.6 436.8 L679.8 422.1 L681.3 439.2 L682.9 432.2 L684.0 432.5 L685.0 441.0 L686.0 442.4 L687.0 428.3 L688.1 433.3 L689.1 424.4 L690.7 440.8 L691.5 448.6 L692.5 436.0 L693.6 445.8 L694.6 432.5 L695.2 441.6 L696.4 436.4 L697.6 443.5 L698.8 439.2 L699.9 444.7 L701.0 445.8 L702.2 453.3 L703.4 459.3 L704.6 461.8 L705.5 461.2 L706.4 466.8 L707.4 461.3 L708.3 467.8 L709.2 464.9 L709.3 473.5 L711.0 479.0 L711.9 473.1 L712.9 475.6 L713.8 465.9 L714.7 464.9 L716.0 476.0 L717.3 481.1 L718.6 482.9 L719.8 485.6 L720.9 490.7 L721.7 474.3 L722.5 488.0 L723.3 499.2 L724.8 507.0 L725.7 510.9 L726.6 506.3 L727.5 514.2 L728.5 510.2 L729.4 515.8 L730.3 514.0 L731.3 512.9 L732.4 519.0 L733.4 515.9 L734.4 520.7 L735.5 517.3 L736.5 521.1 L737.8 520.6 L739.0 512.5 L740.4 496.1 L741.5 512.0 L742.0 525.7 L743.1 514.8 L744.3 507.0 L745.9 530.4 L746.0 539.0 L747.4 547.6 L748.7 545.1 L750.0 537.4 L751.0 530.0 L752.1 529.6 L753.0 538.7 L754.0 540.0 L755.0 541.2 L756.0 546.0 L756.8 554.6 L757.6 562.4 L758.6 565.5 L759.5 561.7 L760.5 571.0 L761.5 568.6 L766.6 571.7 L769.8 588.1 L770.5 578.7 L772.1 570.1 L773.6 561.6 L773.9 553.0 L775.2 567.8 L776.0 575.6 L776.8 584.2 L777.5 592.7 L780.7 600.5 L783.0 603.6 L784.6 595.1 L786.9 587.3 L790.8 592.7 L791.6 601.3 L792.4 609.9 L793.6 618.5 L794.7 627.0 L799.4 628.6 L804.8 631.7 L808.7 639.5 L810.3 647.3 L812.3 655.9 L814.2 663.7 L817.3 667.2 L821.7 659.8 L823.0 657.5" stroke="#d188a7" stroke-width="4.17" stroke-dasharray="4.17 4.17"/>
</g>
<g font-family="DejaVu Sans, Liberation Sans, sans-serif" fill="#262626" font-size="30.55">
<text x="79.0" y="112.1">10<tspan dx="0" dy="-11.4" font-size="21.39">−3</tspan></text>
<text x="79.0" y="217.4">10<tspan dx="0" dy="-11.4" font-size="21.39">−4</tspan></text>
<text x="79.0" y="322.7">10<tspan dx="0" dy="-11.4" font-size="21.39">−5</tspan></text>
<text x="79.0" y="428.0">10<tspan dx="0" dy="-11.4" font-size="21.39">−6</tspan></text>
<text x="79.0" y="533.3">10<tspan dx="0" dy="-11.4" font-size="21.39">−7</tspan></text>
<text x="79.0" y="638.6">10<tspan dx="0" dy="-11.4" font-size="21.39">−8</tspan></text>
<text x="79.0" y="743.9">10<tspan dx="0" dy="-11.4" font-size="21.39">−9</tspan></text>
<text x="65.0" y="849.2">10<tspan dx="0" dy="-11.4" font-size="21.39">−10</tspan></text>
<text x="230.1" y="904.9">10<tspan dx="0.4" dy="-11.4" font-size="21.39">1</tspan></text>
<text x="329.7" y="904.9">10<tspan dx="0.4" dy="-11.4" font-size="21.39">2</tspan></text>
<text x="429.4" y="904.9">10<tspan dx="0.4" dy="-11.4" font-size="21.39">3</tspan></text>
<text x="529.0" y="904.9">10<tspan dx="0.4" dy="-11.4" font-size="21.39">4</tspan></text>
<text x="628.6" y="904.9">10<tspan dx="0.4" dy="-11.4" font-size="21.39">5</tspan></text>
<text x="728.2" y="904.9">10<tspan dx="0.4" dy="-11.4" font-size="21.39">6</tspan></text>
<text x="827.9" y="904.9">10<tspan dx="0.4" dy="-11.4" font-size="21.39">7</tspan></text>
</g>
<text font-family="DejaVu Sans, Liberation Sans, sans-serif" fill="#262626" font-size="33.33" x="556" y="948.2" text-anchor="middle">fragment separation, bp</text>
<text font-family="DejaVu Sans, Liberation Sans, sans-serif" fill="#262626" font-size="33.33" transform="translate(45 437.7) rotate(-90)" text-anchor="middle">probability density</text>
<line x1="953" y1="374" x2="1014" y2="374" stroke="#001c7f" stroke-width="4.17" stroke-linecap="round"/>
<text font-family="DejaVu Sans, Liberation Sans, sans-serif" fill="#262626" font-size="30.55" x="1038.3" y="385">40063_1#3</text>
<line x1="953" y1="601" x2="1014" y2="601" stroke="#8bb3ae" stroke-width="4.17" stroke-dasharray="4.17 4.17"/>
<text font-family="DejaVu Sans, Liberation Sans, sans-serif" fill="#8bb3ae" font-size="30.55" x="1038.8" y="611.5">example good</text>
<line x1="953" y1="645" x2="1014" y2="645" stroke="#d188a7" stroke-width="4.17" stroke-dasharray="4.17 4.17"/>
<text font-family="DejaVu Sans, Liberation Sans, sans-serif" fill="#d188a7" font-size="30.55" x="1038.8" y="655.5">example bad</text>
</svg>
</body></html>
